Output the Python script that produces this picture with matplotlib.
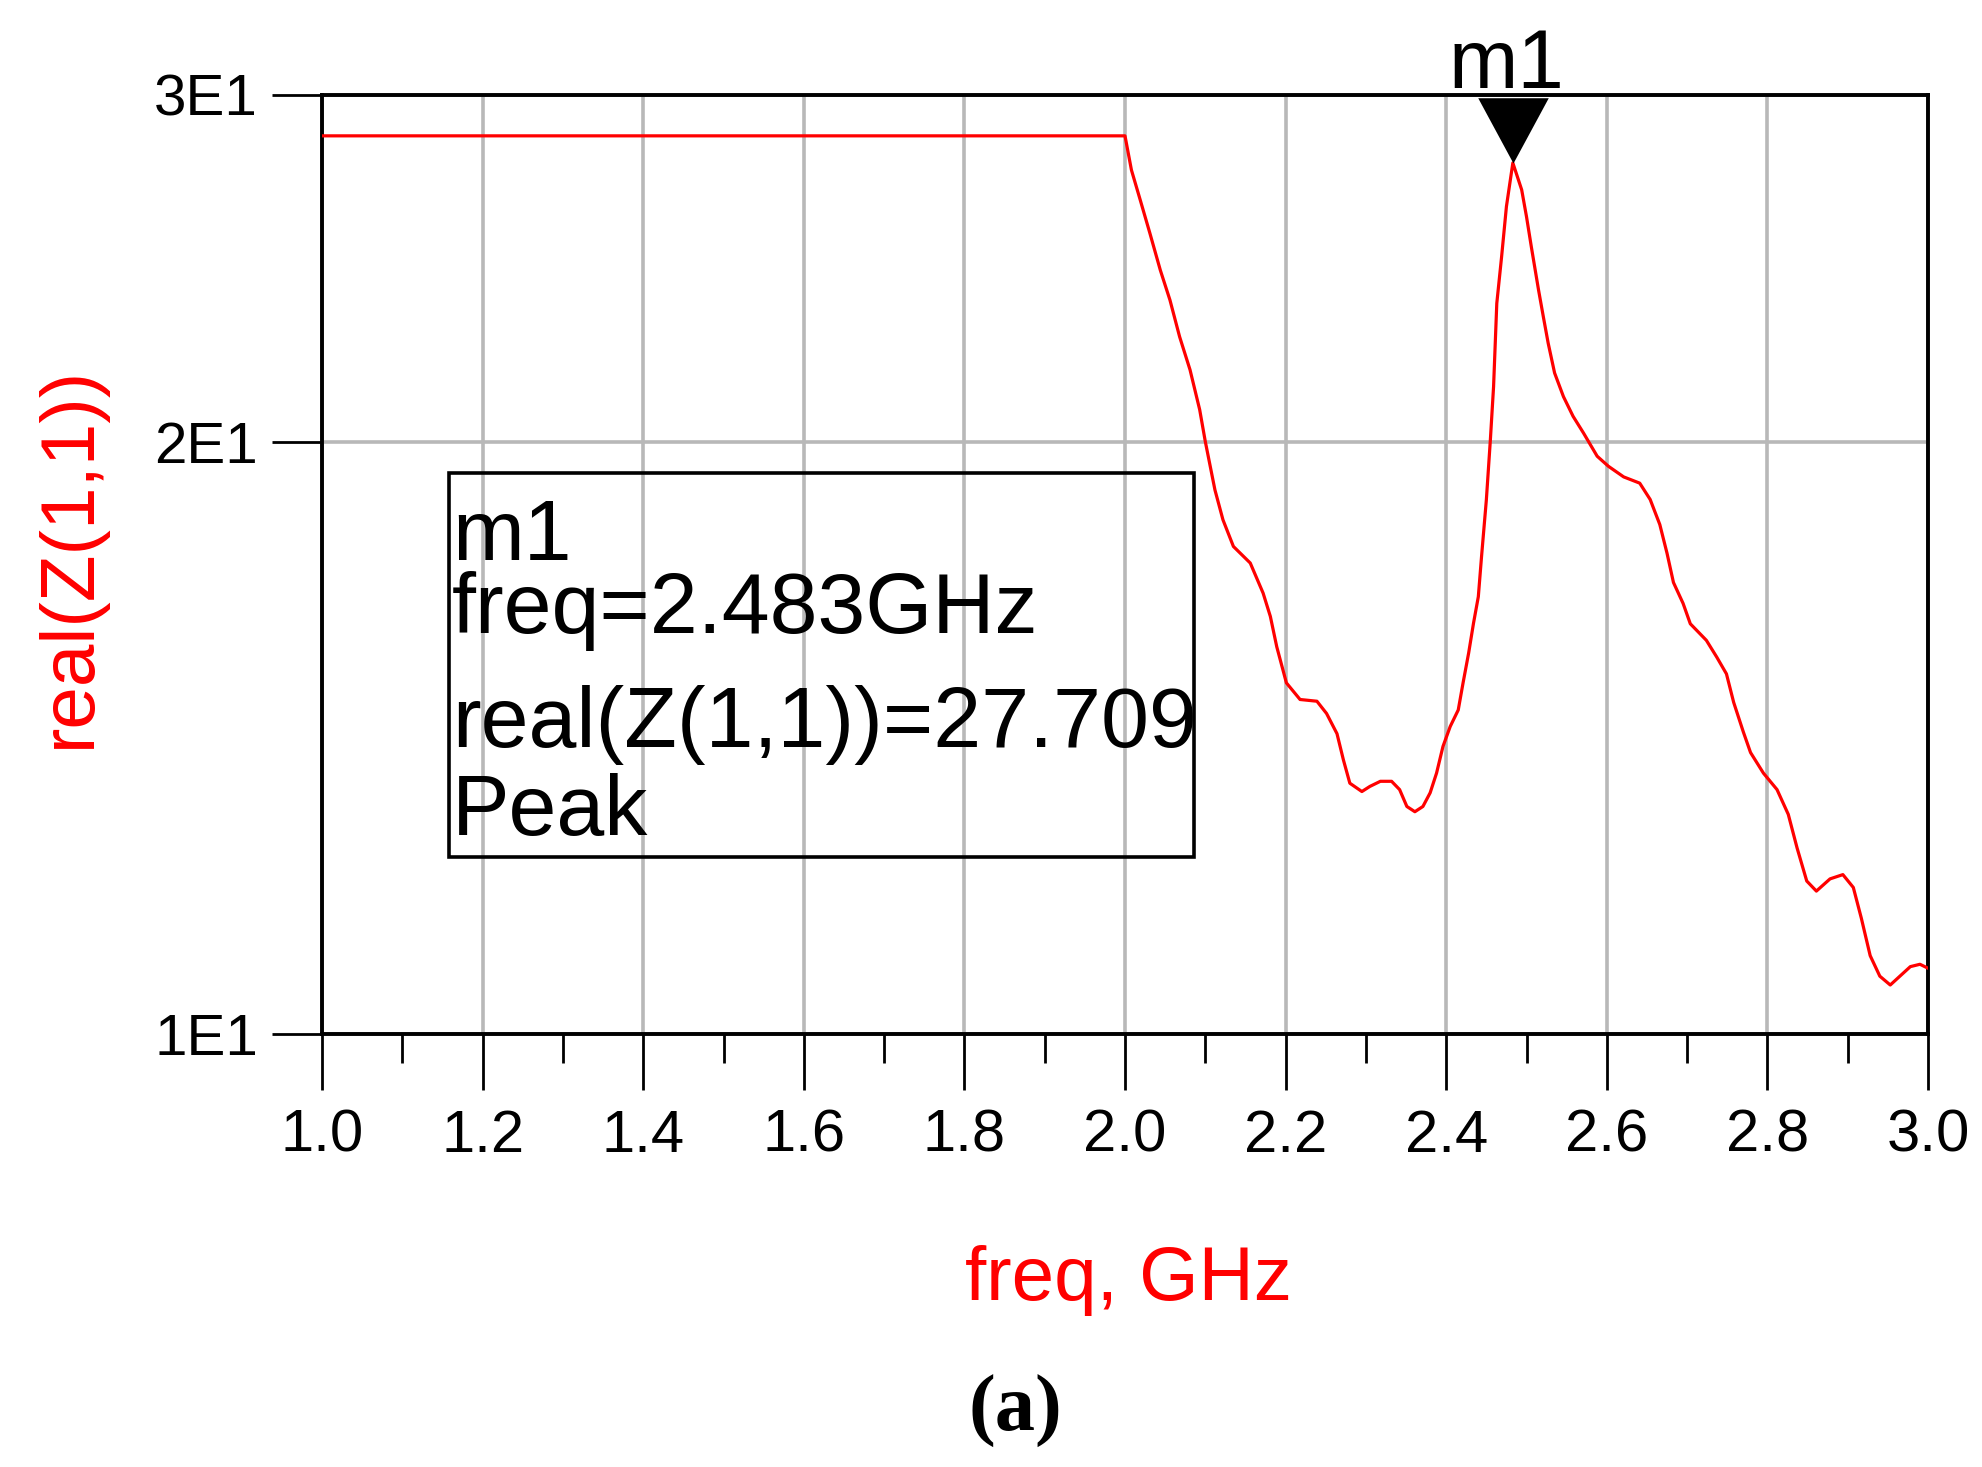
import matplotlib
matplotlib.use("Agg")
import matplotlib.pyplot as plt
from matplotlib.patches import Rectangle
from matplotlib.path import Path
from matplotlib.ticker import FixedLocator, NullLocator, MultipleLocator

# ---------------- data ----------------
freq_ghz = [1.0, 2.0, 2.008, 2.019, 2.031, 2.044, 2.056, 2.068, 2.081, 2.093,
            2.100, 2.112, 2.122, 2.135, 2.156, 2.172, 2.181, 2.189, 2.201, 2.218,
            2.239, 2.251, 2.264, 2.272, 2.280, 2.295, 2.305, 2.318, 2.332, 2.342,
            2.351, 2.361, 2.371, 2.380, 2.388, 2.396, 2.405, 2.415, 2.421, 2.428,
            2.434, 2.440, 2.444, 2.450, 2.455, 2.459, 2.463, 2.469, 2.475, 2.483,
            2.494, 2.500, 2.506, 2.515, 2.521, 2.527, 2.535, 2.546, 2.558, 2.571,
            2.588, 2.602, 2.621, 2.641, 2.654, 2.666, 2.675, 2.683, 2.695, 2.704,
            2.724, 2.737, 2.749, 2.758, 2.770, 2.779, 2.795, 2.812, 2.826, 2.837,
            2.849, 2.861, 2.878, 2.894, 2.907, 2.917, 2.928, 2.940, 2.953, 2.965,
            2.978, 2.990, 3.0]
real_z11 = [28.6, 28.6, 27.48, 26.53, 25.52, 24.44, 23.6, 22.61, 21.75, 20.76,
            20.0, 18.9, 18.25, 17.69, 17.35, 16.75, 16.30, 15.73, 15.08, 14.79,
            14.76, 14.55, 14.21, 13.78, 13.41, 13.28, 13.36, 13.44, 13.44, 13.31,
            13.05, 12.97, 13.05, 13.26, 13.57, 14.0, 14.33, 14.61, 15.08, 15.62,
            16.17, 16.68, 17.48, 18.68, 20.04, 21.33, 23.51, 24.83, 26.33, 27.709,
            26.85, 26.02, 25.12, 23.88, 23.14, 22.44, 21.67, 21.08, 20.6, 20.2,
            19.66, 19.43, 19.19, 19.05, 18.69, 18.15, 17.55, 16.96, 16.55, 16.16,
            15.85, 15.54, 15.24, 14.74, 14.24, 13.9, 13.57, 13.31, 12.93, 12.43,
            11.96, 11.82, 11.99, 12.05, 11.87, 11.45, 10.96, 10.70, 10.59, 10.70,
            10.82, 10.85, 10.8]
marker_freq = 2.483
marker_value = 27.709
x_ticks = [1.0, 1.2, 1.4, 1.6, 1.8, 2.0, 2.2, 2.4, 2.6, 2.8, 3.0]
x_tick_labels = ["1.0", "1.2", "1.4", "1.6", "1.8", "2.0", "2.2", "2.4", "2.6", "2.8", "3.0"]
y_ticks = [10, 20, 30]
y_tick_labels = ["1E1", "2E1", "3E1"]

W, H = 1982, 1467
fig = plt.figure(figsize=(W / 100, H / 100), dpi=100)
plt.rcParams['font.family'] = ['Liberation Sans', 'DejaVu Sans']

L, R, T, B = 322, 1928, 95, 1034
ax = fig.add_axes([L / W, 1 - B / H, (R - L) / W, (B - T) / H])

ax.plot(freq_ghz, real_z11, color='#ff0000', lw=2.3, zorder=3)

ax.set_yscale('log')
ax.set_xlim(1.0, 3.0)
ax.set_ylim(10, 30)

ax.xaxis.set_major_locator(FixedLocator(x_ticks))
ax.set_xticklabels(x_tick_labels)
ax.xaxis.set_minor_locator(MultipleLocator(0.1))
ax.yaxis.set_major_locator(FixedLocator(y_ticks))
ax.yaxis.set_minor_locator(NullLocator())
ax.set_yticklabels(y_tick_labels)

ax.grid(True, which='major', color='#b8b8b8', lw=2.6, zorder=1)
ax.set_axisbelow(True)

for s in ax.spines.values():
    s.set_linewidth(2.8)
    s.set_color('black')

ax.tick_params(axis='x', which='major', direction='out', length=40, width=2.0,
               labelsize=43, pad=14, colors='black')
ax.tick_params(axis='x', which='minor', direction='out', length=21, width=2.0)
ax.tick_params(axis='y', which='major', direction='out', length=36, width=2.0,
               labelsize=42, pad=10, colors='black')

# marker triangle with tip at the peak
tri = Path([(-0.54, 1.0), (0.54, 1.0), (0.0, 0.0), (-0.54, 1.0)],
           [Path.MOVETO, Path.LINETO, Path.LINETO, Path.CLOSEPOLY])
ax.plot([marker_freq], [marker_value], linestyle='none', marker=tri,
        markersize=94, color='black', markeredgewidth=0, clip_on=False, zorder=5)

fig.text(1506 / W, 1 - 88 / H, "m1", ha='center', va='baseline',
         fontsize=60, color='black')

# marker readout box
fig.patches.append(Rectangle((449 / W, 1 - 857 / H), (1194 - 449) / W, (857 - 473) / H,
                             transform=fig.transFigure, fill=False,
                             edgecolor='black', lw=2.6, zorder=4))
box_lines = ["m1", "freq=2.483GHz", "real(Z(1,1))=27.709", "Peak"]
box_baselines = [560, 633, 747, 835]
for txt, yb in zip(box_lines, box_baselines):
    fig.text(452 / W, 1 - yb / H, txt, ha='left', va='baseline',
             fontsize=62, color='black', zorder=6)

# axis labels
fig.text(70 / W, 1 - 557 / H, "real(Z(1,1))", rotation=90, ha='center', va='center',
         fontsize=55, color='#ff0000')
fig.text(1128 / W, 1 - 1300 / H, "freq, GHz", ha='center', va='baseline',
         fontsize=55, color='#ff0000')

fig.text(1015 / W, 1 - 1411 / H, "(a)", ha='center', va='center', fontsize=58,
         fontweight='bold', family=['Liberation Serif', 'DejaVu Serif'], color='black')

fig.savefig("out.png", dpi=100)
